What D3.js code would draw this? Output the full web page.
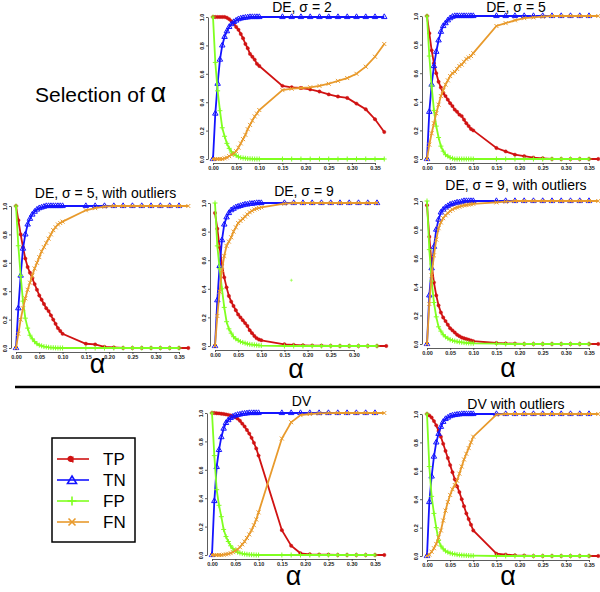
<!DOCTYPE html>
<html>
<head>
<meta charset="utf-8">
<script src="https://cdn.jsdelivr.net/npm/d3@7"></script>
<style>
  body { margin: 0; background: #fff; }
  text { font-family: "Liberation Sans", Arial, sans-serif; }
</style>
</head>
<body>
<svg width="600" height="592"></svg>
<script>
// alpha grid: dense up to 0.10, then every 0.02
const alpha = [0, 0.005, 0.01, 0.015, 0.02, 0.025, 0.03, 0.035, 0.04, 0.045, 0.05, 0.055, 0.06, 0.065, 0.07, 0.075, 0.08, 0.085, 0.09, 0.095, 0.1,
  0.15, 0.17, 0.19, 0.21, 0.23, 0.25, 0.27, 0.29, 0.31, 0.33, 0.35, 0.37];

// DE, sigma = 2
const de2TP = [1,1,1,1,1,1,0.995,0.985,0.97,0.955,0.93,0.91,0.88,0.85,0.81,0.78,0.74,0.72,0.70,0.67,0.655,
  0.515,0.505,0.50,0.49,0.475,0.455,0.44,0.43,0.39,0.35,0.28,0.19];
const de2TN = [0,0.32,0.53,0.7,0.8,0.86,0.9,0.93,0.95,0.965,0.975,0.985,0.99,0.993,0.996,0.998,1,1,1,1,1,
  1,1,1,1,1,1,1,1,1,1,1,1];
const de2FP = [1,0.68,0.48,0.34,0.22,0.16,0.11,0.075,0.05,0.035,0.025,0.015,0.01,0.007,0.005,0.003,0.002,0.001,0,0,0,
  0,0,0,0,0,0,0,0,0,0,0,0];
const de2FN = [0,0,0,0,0,0.005,0.01,0.02,0.03,0.04,0.055,0.08,0.11,0.14,0.17,0.21,0.24,0.27,0.3,0.32,0.345,
  0.485,0.495,0.5,0.505,0.515,0.53,0.55,0.57,0.6,0.65,0.72,0.81];

// DE, sigma = 5
const de5TP = [1,0.88,0.76,0.67,0.6,0.54,0.5,0.46,0.44,0.415,0.39,0.37,0.345,0.33,0.31,0.3,0.275,0.25,0.23,0.21,0.2,
  0.077,0.053,0.03,0.02,0.01,0.005,0,0,0,0,0,0];
const de5TN = [0,0.33,0.52,0.65,0.75,0.83,0.89,0.93,0.95,0.97,0.985,0.995,1,1,1,1,1,1,1,1,1,
  1,1,1,1,1,1,1,1,1,1,1,null];
const de5FP = [1,0.72,0.51,0.34,0.23,0.15,0.09,0.055,0.03,0.02,0.01,0.005,0,0,0,0,0,0,0,0,0,
  0,0,0,0,0,0,0,0,0,0,0,null];
const de5FN = [0,0.1,0.18,0.25,0.32,0.38,0.44,0.48,0.52,0.55,0.58,0.6,0.61,0.63,0.65,0.66,0.68,0.7,0.71,0.72,0.74,
  0.93,0.95,0.97,0.985,0.99,0.995,1,1,1,1,1,1];

// DE, sigma = 5, with outliers
const de5oTP = [1,0.9,0.8,0.71,0.63,0.57,0.53,0.49,0.45,0.41,0.37,0.34,0.31,0.28,0.26,0.23,0.2,0.17,0.14,0.12,0.1,
  0.03,0.025,0.008,0.004,0,0,0,0,0,0,0,0];
const de5oTN = [0,0.28,0.51,0.7,0.8,0.87,0.91,0.94,0.96,0.975,0.985,0.99,0.995,1,1,1,1,1,1,1,1,
  1,1,1,1,1,1,1,1,1,1,1,null];
const de5oFP = [1,0.72,0.51,0.33,0.21,0.14,0.09,0.065,0.045,0.03,0.02,0.015,0.01,0.008,0.005,0.003,0.002,0.001,0,0,0,
  0,0,0,0,0,0,0,0,0,0,0,null];
const de5oFN = [0,0.1,0.2,0.28,0.35,0.41,0.46,0.51,0.56,0.6,0.64,0.68,0.71,0.74,0.77,0.8,0.83,0.85,0.87,0.88,0.89,
  0.97,0.985,0.995,1,1,1,1,1,1,1,1,1];

// DE, sigma = 9
const de9TP = [0.93,0.82,0.69,0.57,0.48,0.41,0.35,0.31,0.28,0.25,0.22,0.2,0.18,0.16,0.14,0.11,0.09,0.07,0.055,0.045,0.04,
  0.012,0.008,0.005,0.003,0.002,0.001,0,0,0,0,0,0];
const de9TN = [0,0.32,0.56,0.74,0.85,0.9,0.93,0.95,0.96,0.97,0.975,0.98,0.985,0.99,0.99,0.995,0.995,0.998,1,1,1,
  1,1,1,1,1,1,1,1,1,1,1,null];
const de9FP = [1,0.7,0.54,0.4,0.27,0.17,0.12,0.09,0.065,0.05,0.04,0.03,0.025,0.02,0.015,0.012,0.01,0.008,0.006,0.004,0.003,
  0,0,0,0,0,0,0,0,0,0,0,null];
const de9FN = [0,0.21,0.38,0.53,0.63,0.7,0.73,0.76,0.8,0.83,0.86,0.875,0.89,0.905,0.92,0.935,0.945,0.955,0.96,0.965,0.97,
  0.995,1,1,1,1,1,1,1,1,1,1,null];
const de9Stray = [0.165, 0.46];

// DE, sigma = 9, with outliers
const de9oTP = [0.97,0.75,0.56,0.43,0.34,0.27,0.22,0.185,0.16,0.135,0.11,0.095,0.08,0.065,0.055,0.045,0.04,0.035,0.03,0.025,0.02,
  0.007,0.004,0.002,0,0,0,0,0,0,0,0,0];
const de9oTN = [0,0.34,0.53,0.68,0.8,0.87,0.92,0.94,0.955,0.965,0.975,0.98,0.985,0.99,0.99,0.995,1,1,1,1,1,
  1,1,1,1,1,1,1,1,1,1,1,null];
const de9oFP = [1,0.66,0.44,0.29,0.19,0.12,0.09,0.065,0.05,0.04,0.03,0.025,0.02,0.017,0.014,0.012,0.01,0.008,0.007,0.006,0.005,
  0.002,0,0,0,0,0,0,0,0,0,0,null];
const de9oFN = [0,0.28,0.48,0.62,0.73,0.81,0.85,0.88,0.9,0.915,0.93,0.94,0.95,0.955,0.96,0.965,0.97,0.972,0.975,0.977,0.98,
  0.99,0.995,1,1,1,1,1,1,1,1,1,1];

// DV
const dvTP = [1,1,0.998,0.997,0.995,0.993,0.99,0.987,0.983,0.978,0.97,0.96,0.945,0.925,0.905,0.88,0.855,0.825,0.79,0.75,0.7,
  0.175,0.065,0.012,0.005,0.003,0.002,0,0,0,0,0,0];
const dvTN = [0,0.38,0.62,0.74,0.83,0.89,0.93,0.95,0.965,0.975,0.982,0.987,0.99,0.994,0.996,0.998,1,1,1,1,1,
  1,1,1,1,1,1,1,1,1,1,1,null];
const dvFP = [1,0.7,0.46,0.35,0.27,0.18,0.13,0.095,0.065,0.045,0.03,0.02,0.014,0.01,0.007,0.005,0.003,0.002,0.001,0,0,
  0,0,0,0,0,0,0,0,0,0,0,null];
const dvFN = [0,0,0,0,0,0.002,0.005,0.008,0.013,0.02,0.03,0.04,0.055,0.075,0.095,0.12,0.145,0.175,0.21,0.25,0.3,
  0.82,0.935,0.985,0.993,0.997,0.999,1,1,1,1,1,1];

// DV with outliers
const dvoTP = [1,0.99,0.975,0.95,0.92,0.88,0.84,0.79,0.74,0.69,0.64,0.59,0.54,0.49,0.45,0.4,0.35,0.3,0.26,0.22,0.18,
  0.016,0.01,0.005,0.003,0,0,0,0,0,0,0,0];
const dvoTN = [0,0.38,0.56,0.7,0.8,0.86,0.91,0.945,0.965,0.975,0.985,0.99,0.993,0.996,0.998,1,1,1,1,1,1,
  1,1,1,1,1,1,1,1,1,1,1,null];
const dvoFP = [1,0.63,0.42,0.3,0.2,0.11,0.07,0.05,0.035,0.027,0.02,0.016,0.013,0.01,0.008,0.006,0.005,0.004,0.003,0.002,0.002,
  0,0,0,0,0,0,0,0,0,0,0,null];
const dvoFN = [0,0.01,0.03,0.055,0.085,0.13,0.18,0.25,0.32,0.38,0.43,0.47,0.5,0.53,0.58,0.63,0.68,0.72,0.76,0.8,0.84,
  0.995,1,1,1,1,1,1,1,1,1,1,1];

const seriesNames = ["TP", "TN", "FP", "FN"];
const xTicks = [0, 0.05, 0.1, 0.15, 0.2, 0.25, 0.3, 0.35];
const yTicks = [0, 0.2, 0.4, 0.6, 0.8, 1];

const colors = { TP: "#d01212", TN: "#1414ff", FP: "#80ff20", FN: "#e89a2c" };
const markPath = {
  TP: d3.symbol(d3.symbolCircle, 9)(),
  TN: d3.symbol(d3.symbolTriangle, 13)(),
  FP: "M-2.5,0H2.5M0,-2.5V2.5",
  FN: "M-2,-2L2,2M-2,2L2,-2"
};
const markFilled = { TP: true, TN: false, FP: false, FN: false };

const svg = d3.select("svg");

const panels = [
  { title: "DE, \u03c3 = 2", series: [de2TP, de2TN, de2FP, de2FN], left: 213, right: 375, top: 17, bottom: 159, titleY: 12, alphaY: null, maxTick: 0.35 },
  { title: "DE, \u03c3 = 5", series: [de5TP, de5TN, de5FP, de5FN], left: 427, right: 589, top: 16, bottom: 159, titleY: 12, alphaY: null, maxTick: 0.35 },
  { title: "DE, \u03c3 = 5, with outliers", series: [de5oTP, de5oTN, de5oFP, de5oFN], left: 16, right: 179, top: 206, bottom: 348, titleY: 198, alphaY: 373, maxTick: 0.35 },
  { title: "DE, \u03c3 = 9", series: [de9TP, de9TN, de9FP, de9FN], left: 215, right: 377, top: 203, bottom: 346, titleY: 196, alphaY: 378, maxTick: 0.30, stray: de9Stray },
  { title: "DE, \u03c3 = 9, with outliers", series: [de9oTP, de9oTN, de9oFP, de9oFN], left: 427, right: 589, top: 201, bottom: 344, titleY: 190, alphaY: 377, maxTick: 0.35 },
  { title: "DV", series: [dvTP, dvTN, dvFP, dvFN], left: 212, right: 375, top: 413, bottom: 555, titleY: 406, alphaY: 585, maxTick: 0.35 },
  { title: "DV with outliers", series: [dvoTP, dvoTN, dvoFP, dvoFN], left: 427, right: 589, top: 414, bottom: 556, titleY: 409, alphaY: 585, maxTick: 0.35 }
];

function drawMark(sel, name, scale) {
  sel.append("path")
    .attr("d", markPath[name])
    .attr("transform", d => `translate(${d[0]},${d[1]})` + (scale ? ` scale(${scale})` : ""))
    .attr("fill", markFilled[name] ? colors[name] : "none")
    .attr("stroke", colors[name])
    .attr("stroke-width", markFilled[name] ? 0.4 : 1);
}

panels.forEach(p => {
  const x = d3.scaleLinear().domain([0, 0.35]).range([p.left, p.right]);
  const y = d3.scaleLinear().domain([0, 1]).range([p.bottom, p.top]);
  const g = svg.append("g");

  // axes, R style: lines only across the tick span
  const axisX = x.copy().domain([0, p.maxTick]).range([x(0), x(p.maxTick)]);
  const gx = g.append("g")
    .attr("transform", `translate(0,${p.bottom + 4})`)
    .call(d3.axisBottom(axisX)
      .tickValues(xTicks.filter(t => t <= p.maxTick + 1e-9))
      .tickFormat(d3.format(".2f"))
      .tickSize(2).tickSizeOuter(0).tickPadding(1.5));

  const gy = g.append("g")
    .attr("transform", `translate(${p.left - 5},0)`)
    .call(d3.axisLeft(y)
      .tickValues(yTicks)
      .tickFormat(d3.format(".1f"))
      .tickSize(2).tickSizeOuter(0));
  gy.selectAll(".tick text")
    .attr("transform", "rotate(-90)")
    .attr("x", 0).attr("y", -4).attr("dy", 0)
    .attr("text-anchor", "middle");

  [gx, gy].forEach(a => {
    a.selectAll(".domain, .tick line").attr("stroke", "#333").attr("stroke-width", 0.8);
    a.selectAll("text")
      .attr("font-size", 5.5)
      .attr("font-weight", "bold")
      .attr("fill", "#222")
      .style("font-family", '"Liberation Sans", Arial, sans-serif');
  });

  // series
  p.series.forEach((vals, i) => {
    const name = seriesNames[i];
    const pts = alpha.map((a, j) => [a, vals[j]]).filter(d => d[1] != null);
    const line = d3.line().x(d => x(d[0])).y(d => y(d[1]));
    g.append("path")
      .attr("d", line(pts))
      .attr("fill", "none")
      .attr("stroke", colors[name])
      .attr("stroke-width", 1.8);
    const marks = g.append("g").selectAll("g")
      .data(pts.map(d => [x(d[0]), y(d[1])]))
      .join("g");
    drawMark(marks, name);
  });

  if (p.stray) {
    const s = g.append("g").selectAll("g").data([[x(p.stray[0]), y(p.stray[1])]]).join("g");
    drawMark(s, "FP", 0.6);
  }

  g.append("text")
    .attr("x", x(0.19) + 1)
    .attr("y", p.titleY)
    .attr("text-anchor", "middle")
    .attr("font-size", 14)
    .text(p.title);

  if (p.alphaY) {
    g.append("text")
      .attr("x", x(0.175))
      .attr("y", p.alphaY)
      .attr("text-anchor", "middle")
      .attr("font-size", 27)
      .text("\u03b1");
  }
});

// heading
const head = svg.append("text").attr("x", 35).attr("y", 102).attr("font-size", 21);
head.append("tspan").text("Selection of ");
head.append("tspan").attr("font-size", 27).text("\u03b1");

// separator
svg.append("line")
  .attr("x1", 15).attr("x2", 600)
  .attr("y1", 387).attr("y2", 387)
  .attr("stroke", "#000").attr("stroke-width", 2.5);

// legend
const leg = svg.append("g");
leg.append("rect")
  .attr("x", 52).attr("y", 438).attr("width", 83).attr("height", 104)
  .attr("fill", "none").attr("stroke", "#000").attr("stroke-width", 1.5);

const legendMarks = {
  TP: "M-1.5,-2.5a2.3,2.3 0 1,0 0.01,0M0.8,-2.5V3.5",
  TN: "M0,-4L4.5,3.5H-4.5Z",
  FP: "M-4.5,0H4.5M0,-4.5V4.5",
  FN: "M-3.5,-3.5L3.5,3.5M-3.5,3.5L3.5,-3.5"
};
seriesNames.forEach((name, i) => {
  const yy = 459 + i * 21;
  leg.append("line")
    .attr("x1", 57).attr("x2", 89).attr("y1", yy).attr("y2", yy)
    .attr("stroke", colors[name]).attr("stroke-width", 1.6);
  leg.append("path")
    .attr("d", legendMarks[name])
    .attr("transform", `translate(72,${yy})`)
    .attr("fill", name === "TP" ? colors[name] : "none")
    .attr("stroke", colors[name])
    .attr("stroke-width", 1.6);
  leg.append("text")
    .attr("x", 103).attr("y", yy + 6)
    .attr("font-size", 17)
    .text(name);
});
</script>
</body>
</html>
